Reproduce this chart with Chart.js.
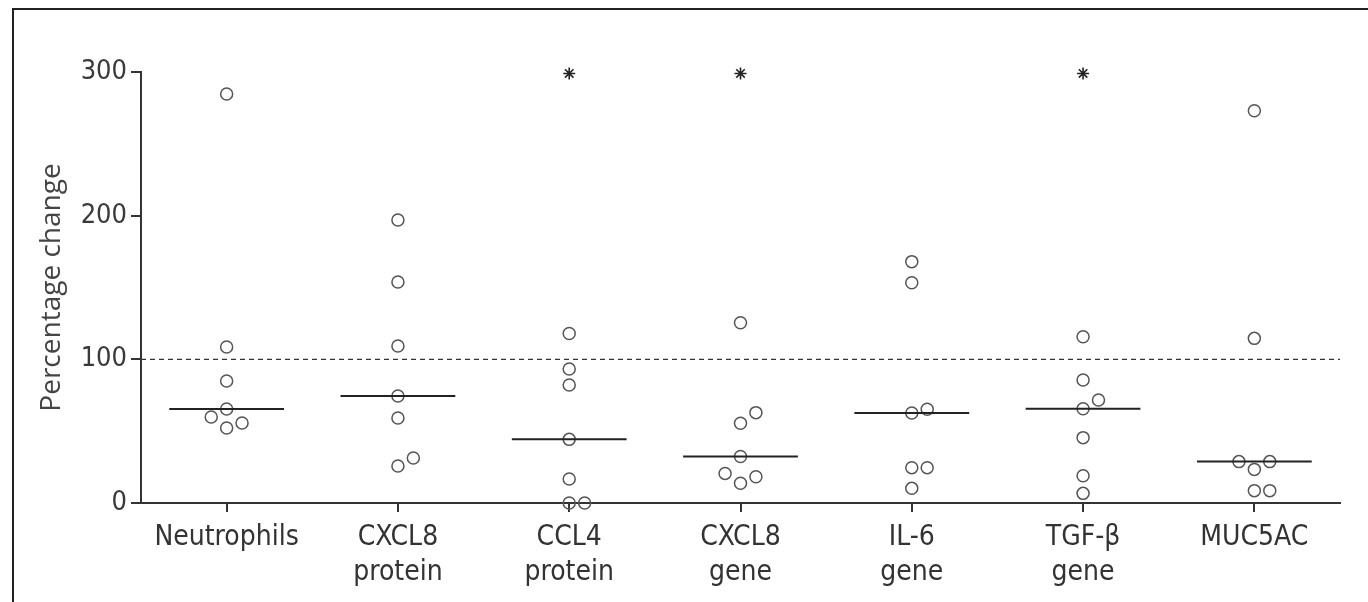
<!DOCTYPE html>
<html>
<head>
<meta charset="utf-8">
<script src="https://cdn.jsdelivr.net/npm/chart.js@4"></script>
<style>
  html, body { margin: 0; padding: 0; background: #fff; }
  #wrap { position: absolute; left: 0; top: 0; width: 1368px; height: 602px; }
  #frame { position: absolute; left: 12px; top: 8px; width: 1360px; height: 600px;
           border-left: 2px solid #222; border-top: 2px solid #222; pointer-events: none; }
</style>
</head>
<body>
<div id="wrap"><canvas id="chart"></canvas></div>
<div id="frame"></div>
<script>
// categories (x axis)
var categories = [
    'Neutrophils', ['CXCL8', 'protein'], ['CCL4', 'protein'], ['CXCL8', 'gene'],
    ['IL-6', 'gene'], ['TGF-\u03b2', 'gene'], 'MUC5AC'
];

// percentage change values, one list per category
var neutrophils  = [284.7, 108.6, 84.9, 65.4, 52.2, 55.7, 59.9];
var cxcl8Protein = [197, 153.8, 109.3, 74.5, 59.2, 25.8, 31.3];
var ccl4Protein  = [118, 93.3, 82.1, 44.3, 16.7, 0, 0];
var cxcl8Gene    = [125.5, 55.5, 62.9, 32.4, 13.7, 18.3, 20.6];
var il6Gene      = [168, 153.3, 62.6, 65.2, 24.6, 24.6, 10.2];
var tgfbGene     = [115.7, 85.6, 65.6, 71.7, 45.5, 19.0, 6.7];
var muc5ac       = [273, 114.6, 23.4, 28.8, 28.8, 8.6, 8.6];

var allGroups = [neutrophils, cxcl8Protein, ccl4Protein, cxcl8Gene, il6Gene, tgfbGene, muc5ac];

// categories marked with * (significant)
var starred = [2, 3, 5];
var starLevel = 299;

// reference level (dashed line)
var refLevel = 100;

// y axis ticks
var yTicks = [0, 100, 200, 300];

function median(arr) {
    var s = arr.slice().sort(function(a, b) { return a - b; });
    var m = Math.floor(s.length / 2);
    return s.length % 2 ? s[m] : (s[m - 1] + s[m]) / 2;
}

// simple column scatter: shift a point sideways when it would sit on top of another one
var jitterStep = 0.09;
var overlap = 8;
var points = [];
allGroups.forEach(function(vals, i) {
    var placed = [];
    vals.forEach(function(v) {
        var slots = [0, 1, -1, 2, -2];
        for (var k = 0; k < slots.length; k++) {
            var clash = placed.some(function(p) { return p.slot === slots[k] && Math.abs(p.v - v) < overlap; });
            if (!clash) {
                placed.push({ v: v, slot: slots[k] });
                points.push({ x: i + slots[k] * jitterStep, y: v });
                break;
            }
        }
    });
});

var medianLines = [];
allGroups.forEach(function(vals, i) {
    var m = median(vals);
    medianLines.push({ x: i - 0.335, y: m }, { x: i + 0.335, y: m }, { x: i + 0.5, y: null });
});

var stars = starred.map(function(i) { return { x: i, y: starLevel }; });
var refLine = [{ x: -0.5, y: refLevel }, { x: categories.length - 0.5, y: refLevel }];

var ink = '#333';

var ctx = document.getElementById('chart').getContext('2d');
var chart = new Chart(ctx, {
    type: 'scatter',
    data: {
        datasets: [
            {
                data: refLine, showLine: true, pointRadius: 0,
                borderColor: ink, borderWidth: 1.3, borderDash: [5, 4], clip: false
            },
            {
                data: medianLines, showLine: true, spanGaps: false, pointRadius: 0,
                borderColor: '#222', borderWidth: 2, clip: false
            },
            {
                data: points, pointRadius: 6, pointBorderWidth: 1.5,
                pointBorderColor: '#555', pointBackgroundColor: 'rgba(0,0,0,0)', clip: false
            },
            {
                data: stars, pointStyle: 'star', pointRadius: 6, pointBorderWidth: 1.6,
                pointBorderColor: '#222', clip: false
            }
        ]
    },
    options: {
        responsive: true,
        maintainAspectRatio: false,
        animation: false,
        events: [],
        layout: { padding: { top: 72, right: 28, left: 0, bottom: 0 } },
        plugins: { legend: { display: false }, tooltip: { enabled: false } },
        scales: {
            x: {
                type: 'linear',
                min: -0.5,
                max: categories.length - 0.5,
                afterBuildTicks: function(s) {
                    s.ticks = categories.map(function(c, i) { return { value: i }; });
                },
                afterFit: function(s) { s.height = 99; },
                border: { display: true, color: ink, width: 2 },
                grid: { drawOnChartArea: false, drawTicks: true, tickLength: 9, color: ink, lineWidth: 2 },
                ticks: {
                    autoSkip: false,
                    maxRotation: 0,
                    padding: 8,
                    color: '#333',
                    font: { family: 'DejaVu Sans Condensed', size: 28, lineHeight: 1.25 },
                    callback: function(value) { return categories[value]; }
                }
            },
            y: {
                min: 0,
                max: 300,
                afterBuildTicks: function(s) {
                    s.ticks = yTicks.map(function(v) { return { value: v }; });
                },
                afterFit: function(s) { s.width = 141; },
                border: { display: true, color: ink, width: 2 },
                grid: { drawOnChartArea: false, drawTicks: true, tickLength: 10, color: ink, lineWidth: 2 },
                ticks: {
                    padding: 4,
                    color: '#3a3a3a',
                    font: { family: 'DejaVu Sans Condensed', size: 27 }
                },
                title: {
                    display: true,
                    text: 'Percentage change',
                    color: '#444',
                    font: { family: 'Open Sans', size: 28, lineHeight: 1.2 },
                    padding: { top: 35, bottom: 0 }
                }
            }
        }
    }
});
</script>
</body>
</html>
